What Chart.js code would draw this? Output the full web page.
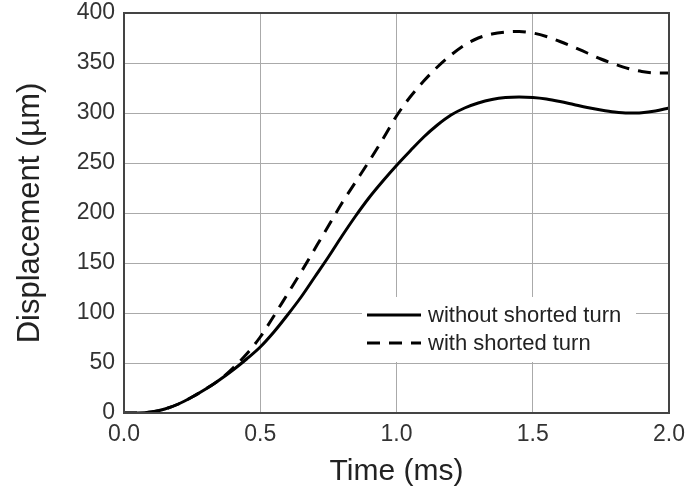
<!DOCTYPE html>
<html>
<head>
<meta charset="utf-8">
<script src="https://cdn.jsdelivr.net/npm/chart.js@4/dist/chart.umd.min.js"></script>
<style>
html,body{margin:0;padding:0;background:#fff;}
#c{display:block;}
</style>
</head>
<body>
<canvas id="c" width="688" height="494"></canvas>
<script>
const timeMs = [0.0,0.05,0.1,0.15,0.2,0.25,0.3,0.35,0.4,0.45,0.5,0.55,0.6,0.65,0.7,0.75,0.8,0.85,0.9,0.95,1.0,1.05,1.1,1.15,1.2,1.25,1.3,1.35,1.4,1.45,1.5,1.55,1.6,1.65,1.7,1.75,1.8,1.85,1.9,1.95,2.0];
const withoutShorted = [0,0,1,4,9,16,24,33,43,54,66,81,98,116,136,156,177,197,215.5,232,247.5,262,276,288,298,305,310,313.5,315.5,316,315.5,314,311.5,308.5,305.5,303,301,300,300.3,302,305];
const withShorted = [0,0,1,4,9,16,24,33,45,59,76,97,119,141,164,187,210,231,252,274,297,316,332,346,358,368,375,379,381,381.5,380,376.5,371.5,366,360,354,349,344.5,341.5,340,340];
const xTicks = [0.0,0.5,1.0,1.5,2.0];
const yTicks = [0,50,100,150,200,250,300,350,400];
const seriesLabels = ['without shorted turn','with shorted turn'];

const FONT = "'Liberation Sans', Arial, Helvetica, sans-serif";

const frameAndLegend = {
  id: 'frameAndLegend',
  afterDatasetsDraw(chart) {
    const ctx = chart.ctx;
    const a = chart.chartArea;
    ctx.save();
    const lx = 362, ly = 297, lw = 274, lh = 65;
    ctx.fillStyle = '#fff';
    ctx.fillRect(lx, ly, lw, lh);
    ctx.font = '22px ' + FONT;
    ctx.fillStyle = '#222';
    ctx.textBaseline = 'middle';
    chart.data.datasets.forEach((ds, i) => {
      const y = 315 + i * 28;
      ctx.beginPath();
      ctx.strokeStyle = ds.borderColor;
      ctx.lineWidth = 3;
      ctx.setLineDash(ds.borderDash || []);
      ctx.moveTo(367, y);
      ctx.lineTo(421, y);
      ctx.stroke();
      ctx.setLineDash([]);
      ctx.fillText(ds.label, 428, y + 1);
    });
    ctx.strokeStyle = '#444';
    ctx.lineWidth = 2;
    ctx.strokeRect(a.left, a.top, a.right - a.left, a.bottom - a.top);
    ctx.restore();
  }
};

new Chart(document.getElementById('c'), {
  type: 'line',
  data: {
    datasets: [
      {
        label: seriesLabels[0],
        data: timeMs.map((t, i) => ({x: t, y: withoutShorted[i]})),
        borderColor: '#000',
        borderWidth: 3,
        pointRadius: 0,
        cubicInterpolationMode: 'monotone',
        fill: false
      },
      {
        label: seriesLabels[1],
        data: timeMs.map((t, i) => ({x: t, y: withShorted[i]})),
        borderColor: '#000',
        borderWidth: 3,
        borderDash: [13, 9],
        pointRadius: 0,
        cubicInterpolationMode: 'monotone',
        fill: false
      }
    ]
  },
  options: {
    responsive: false,
    animation: false,
    devicePixelRatio: 1,
    layout: { padding: { top: 13, right: 19, left: 0, bottom: 0 } },
    plugins: { legend: { display: false }, tooltip: { enabled: false } },
    scales: {
      x: {
        type: 'linear',
        min: 0, max: 2,
        afterBuildTicks(s) { s.ticks = xTicks.map(v => ({value: v})); },
        afterFit(s) { s.height = 81; s.paddingLeft = 0; s.paddingRight = 0; },
        grid: { color: '#aaa', lineWidth: 1, drawTicks: false },
        border: { display: false },
        ticks: {
          padding: 8,
          color: '#333',
          font: { family: FONT, size: 23 },
          maxRotation: 0,
          callback: v => Number(v).toFixed(1)
        },
        title: {
          display: true,
          text: 'Time (ms)',
          color: '#222',
          font: { family: FONT, size: 30 },
          padding: { top: 0, bottom: 4 }
        }
      },
      y: {
        min: 0, max: 400,
        afterBuildTicks(s) { s.ticks = yTicks.map(v => ({value: v})); },
        afterFit(s) { s.width = 124; s.paddingTop = 0; s.paddingBottom = 0; },
        grid: { color: '#aaa', lineWidth: 1, drawTicks: false },
        border: { display: false },
        ticks: {
          padding: 9,
          color: '#333',
          font: { family: FONT, size: 23 }
        },
        title: {
          display: true,
          text: 'Displacement (µm)',
          color: '#222',
          font: { family: FONT, size: 31 },
          padding: { top: 12, bottom: 0 }
        }
      }
    }
  },
  plugins: [frameAndLegend]
});
</script>
</body>
</html>
